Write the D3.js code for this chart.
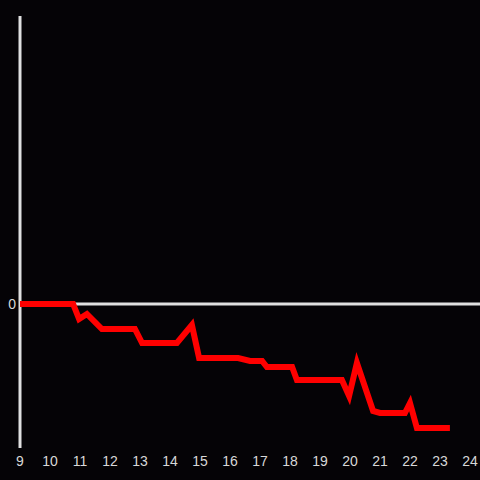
<!DOCTYPE html>
<html>
<head>
<meta charset="utf-8">
<script src="https://cdn.jsdelivr.net/npm/d3@7"></script>
<style>
  html, body { margin: 0; padding: 0; background: #050306; }
  svg { display: block; }
</style>
</head>
<body>
<div id="chart"></div>
<script>
const width = 480;
const height = 480;

// hours of the day and the value at each point
const hours = [9.0, 10.77, 10.97, 11.23, 11.73, 12.83, 13.07, 13.27, 14.23, 14.73, 14.97,
    16.27, 16.67, 17.07, 17.23, 18.07, 18.23, 19.73, 19.97, 20.23, 20.77, 21.0,
    21.83, 22.0, 22.23, 23.33];
const values = [0, 0, -7.5, -5, -12.5, -12.5, -19.5, -19.5, -19.5, -10.5, -27,
    -27, -28.5, -28.5, -31.5, -31.5, -38, -38, -46, -29.5, -53.5, -54.5,
    -54.5, -49.5, -62, -62];
const xTicks = [9, 10, 11, 12, 13, 14, 15, 16, 17, 18, 19, 20, 21, 22, 23, 24];

const data = hours.map((h, i) => ({ h, v: values[i] }));

const x = d3.scaleLinear().domain([9, 24]).range([20, 470]);
const y = d3.scaleLinear().domain([-72, 144]).range([448, 16]);

const svg = d3.select("#chart")
    .append("svg")
    .attr("width", width)
    .attr("height", height);

svg.append("rect")
    .attr("width", width)
    .attr("height", height)
    .attr("fill", "#050306");

// zero line
svg.append("line")
    .attr("x1", x(9)).attr("x2", width)
    .attr("y1", y(0)).attr("y2", y(0))
    .attr("stroke", "#e0e0e0")
    .attr("stroke-width", 3);

// y axis line
svg.append("line")
    .attr("x1", x(9)).attr("x2", x(9))
    .attr("y1", y(144)).attr("y2", y(-72))
    .attr("stroke", "#e0e0e0")
    .attr("stroke-width", 3);

svg.append("text")
    .attr("x", x(9) - 4)
    .attr("y", y(0) + 5)
    .attr("text-anchor", "end")
    .attr("fill", "#d8d8d8")
    .style("font-family", "Liberation Sans, Arial, sans-serif")
    .style("font-size", "14px")
    .text("0");

svg.selectAll(".xtick")
    .data(xTicks)
    .enter()
    .append("text")
    .attr("class", "xtick")
    .attr("x", d => x(d))
    .attr("y", 466)
    .attr("text-anchor", "middle")
    .attr("fill", "#d8d8d8")
    .style("font-family", "Liberation Sans, Arial, sans-serif")
    .style("font-size", "14px")
    .text(d => d);

const line = d3.line()
    .x(d => x(d.h))
    .y(d => y(d.v));

svg.append("path")
    .datum(data)
    .attr("d", line)
    .attr("fill", "none")
    .attr("stroke", "#ff0000")
    .attr("stroke-width", 6)
    .attr("stroke-linejoin", "miter");
</script>
</body>
</html>
